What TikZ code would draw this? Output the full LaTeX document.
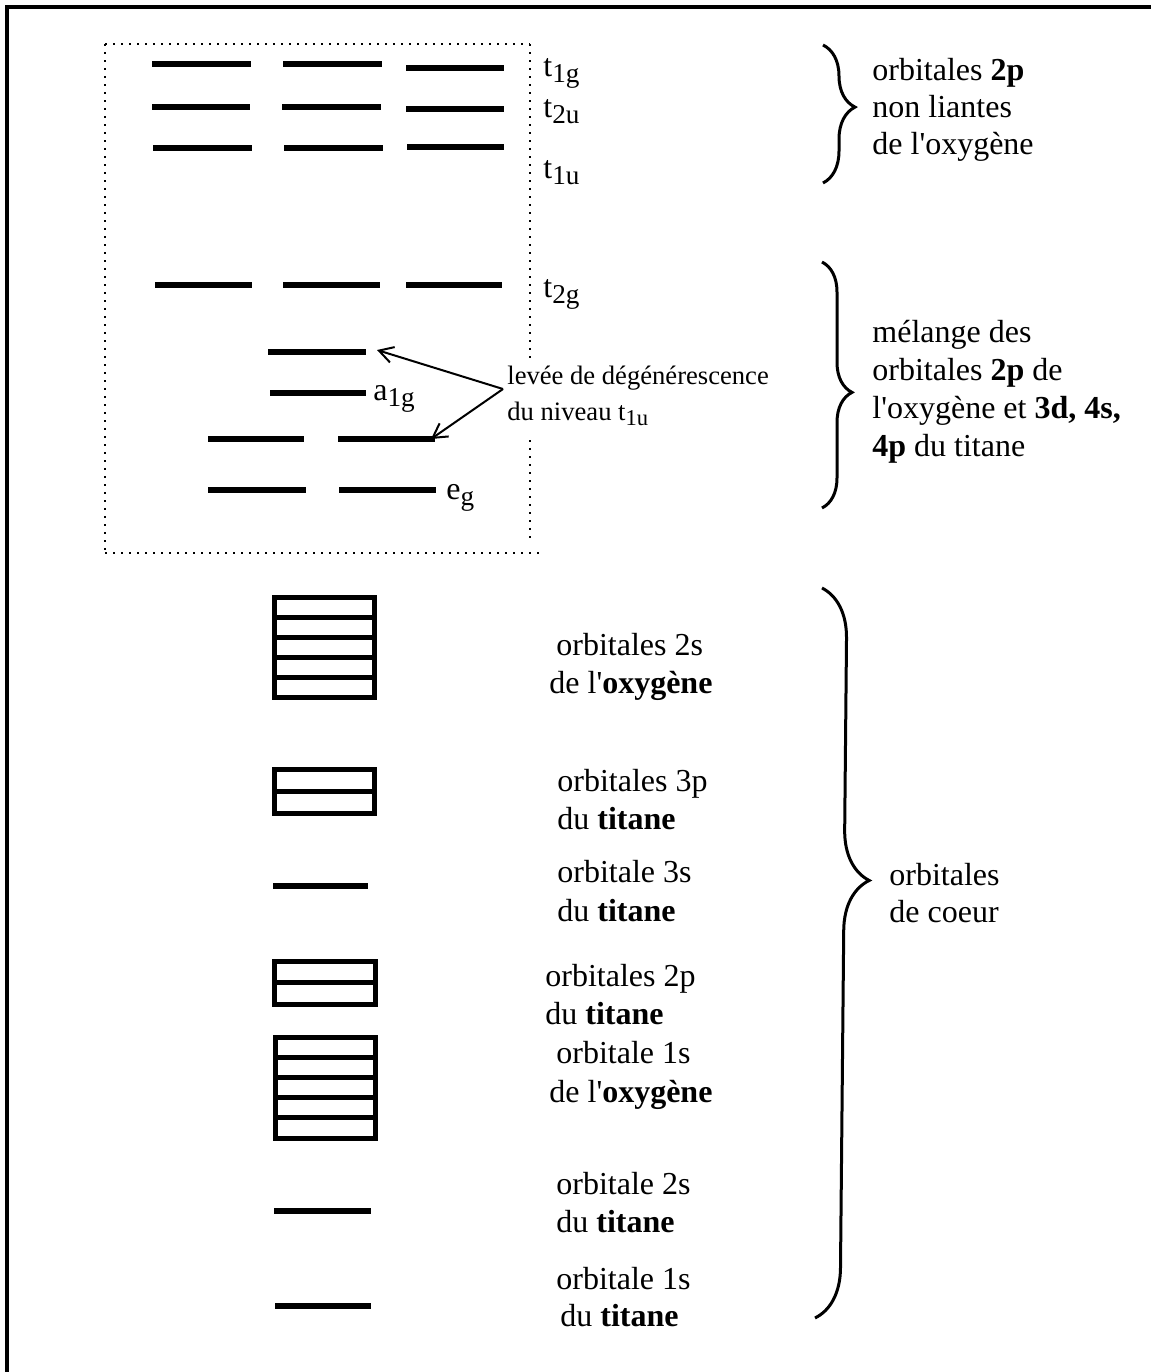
\documentclass[tikz,border=0pt]{standalone}
\usepackage{fontspec}
\setmainfont{Liberation Serif}[Ligatures=TeXOff]
\usepackage{graphicx}
\usetikzlibrary{arrows.meta,decorations.pathreplacing}
\newcommand\sbs[1]{\raisebox{-0.45ex}{\scalebox{0.85}{#1}}}
\newcommand\ap{\char"27\relax}
\begin{document}
\begin{tikzpicture}[x=0.5pt,y=-0.5pt,
  level/.style={line width=2.8pt},
  boxline/.style={line width=2.5pt},
  txt/.style={font=\fontsize{16}{19}\selectfont, inner sep=0pt, anchor=base west},
  smalltxt/.style={font=\fontsize{13.3}{16}\selectfont, inner sep=0pt, anchor=base west},
  brc/.style={decorate, decoration={brace, amplitude=#1}, line width=1.5pt},
  dotline/.style={line width=1pt, dash pattern=on 1pt off 3pt},
  arr/.style={-{Straight Barb[length=7pt,width=8pt]}, line width=1pt}]
\useasboundingbox (0,0) rectangle (1151,1372);
% frame
\draw[line width=1.6pt] (7,1372) -- (7,7) -- (1151,7);
% dotted box
\draw[dotline] (105,44) -- (530,44);
\draw[dotline] (105,44) -- (105,553);
\draw[dotline] (105,553) -- (540,553);
\draw[dotline] (530,44) -- (530,362);
\draw[dotline] (530,440) -- (530,540);
% levels
\draw[level] (152,64) -- (251,64);
\draw[level] (283,64) -- (382,64);
\draw[level] (406,68) -- (504,68);
\draw[level] (152,107) -- (250,107);
\draw[level] (282,107) -- (381,107);
\draw[level] (406,109) -- (504,109);
\draw[level] (153,148) -- (252,148);
\draw[level] (284,148) -- (383,148);
\draw[level] (407,147) -- (504,147);
\draw[level] (155,285) -- (252,285);
\draw[level] (283,285) -- (380,285);
\draw[level] (406,285) -- (502,285);
\draw[level] (268,352) -- (366,352);
\draw[level] (270,393) -- (366,393);
\draw[level] (208,439) -- (304,439);
\draw[level] (338,439) -- (435,439);
\draw[level] (208,490) -- (306,490);
\draw[level] (339,490) -- (436,490);
% level labels
\node[txt] (t1g) at (543,76) {t\sbs{1g}};
\node[txt] (t2u) at (543,117) {t\sbs{2u}};
\node[txt] (t1u) at (543,178) {t\sbs{1u}};
\node[txt] (t2g) at (543,297) {t\sbs{2g}};
\node[txt] (a1g) at (373,400) {a\sbs{1g}};
\node[txt] (eg) at (446,499) {e\sbs{g}};
% splitting annotation
\node[smalltxt] (lev1) at (507,384) {levée de dégénérescence};
\node[smalltxt] (lev2) at (507,420) {du niveau t\sbs{1u}};
\coordinate (apex) at (503,389);
\coordinate (tipA) at (377,350);
\coordinate (tipB) at (431,439);
\draw[arr] (apex) -- (tipA);
\draw[arr] (apex) -- (tipB);
% core boxes
\draw[boxline] (274,597) rectangle (374,697);
\foreach \yy in {617,637,657,677} \draw[boxline] (274,\yy) -- (374,\yy);
\draw[boxline] (274,769) rectangle (374,813);
\draw[boxline] (274,791) -- (374,791);
\draw[level] (273,886) -- (368,886);
\draw[boxline] (274,961) rectangle (375,1004);
\draw[boxline] (274,982.5) -- (375,982.5);
\draw[boxline] (275,1037) rectangle (375,1138);
\foreach \yy in {1057.2,1077.4,1097.6,1117.8} \draw[boxline] (275,\yy) -- (375,\yy);
\draw[level] (274,1211) -- (371,1211);
\draw[level] (275,1306) -- (371,1306);
% core texts
\node[txt] (c1a) at (556,655) {orbitales 2s};
\node[txt] (c1b) at (549,693) {de l'\textbf{oxygène}};
\node[txt] (c2a) at (557,791) {orbitales 3p};
\node[txt] (c2b) at (557,829) {du \textbf{titane}};
\node[txt] (c3a) at (557,882) {orbitale 3s};
\node[txt] (c3b) at (557,921) {du \textbf{titane}};
\node[txt] (c4a) at (545,986) {orbitales 2p};
\node[txt] (c4b) at (545,1024) {du \textbf{titane}};
\node[txt] (c5a) at (556,1063) {orbitale 1s};
\node[txt] (c5b) at (549,1102) {de l'\textbf{oxygène}};
\node[txt] (c6a) at (556,1194) {orbitale 2s};
\node[txt] (c6b) at (556,1232) {du \textbf{titane}};
\node[txt] (c7a) at (556,1289) {orbitale 1s};
\node[txt] (c7b) at (560,1326) {du \textbf{titane}};
% braces
\draw[brc=16pt, decoration={aspect=0.45}] (823,45) -- (823,183);
\draw[brc=15pt, decoration={aspect=0.53}] (822,262) -- (822,508);
\draw[brc=25pt, decoration={aspect=0.4}] (822,588) -- (815,1318);
% brace texts
\node[txt] (r1a) at (872,80) {orbitales \textbf{2p}};
\node[txt] (r1b) at (872,117) {non liantes};
\node[txt] (r1c) at (872,154) {de l'oxygène};
\node[txt] (r2a) at (872,342) {mélange des};
\node[txt] (r2b) at (872,380) {orbitales \textbf{2p} de};
\node[txt] (r2c) at (872,418) {l'oxygène et \textbf{3d, 4s,}};
\node[txt] (r2d) at (872,456) {\textbf{4p} du titane};
\node[txt] (r3a) at (889,885) {orbitales};
\node[txt] (r3b) at (889,922) {de coeur};
\end{tikzpicture}
\end{document}
